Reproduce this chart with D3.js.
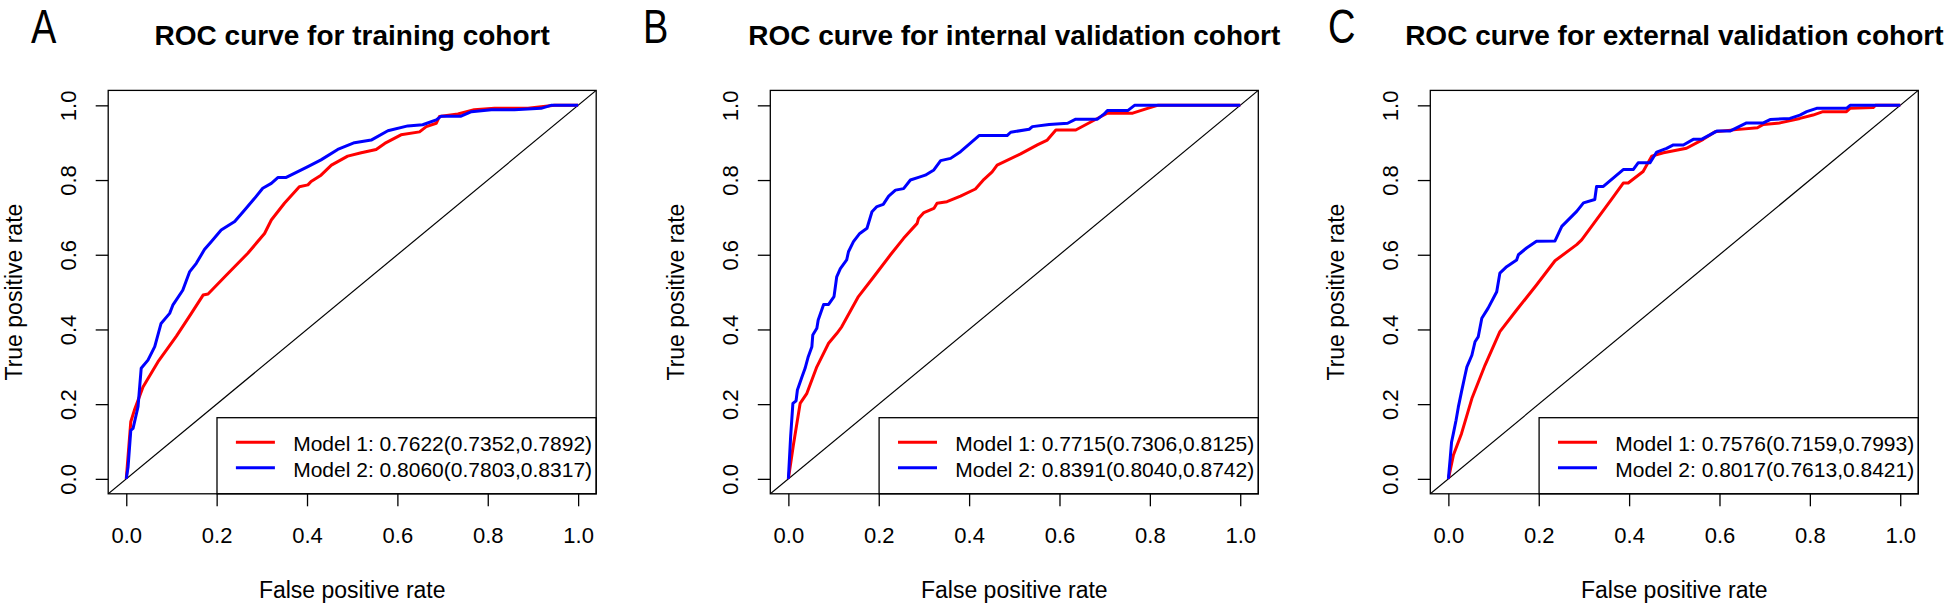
<!DOCTYPE html>
<html>
<head>
<meta charset="utf-8">
<script src="https://cdn.jsdelivr.net/npm/d3@7"></script>
<style>
  html, body { margin: 0; padding: 0; background: #fff; }
  svg { display: block; }
  text { font-family: "Liberation Sans", Arial, sans-serif; fill: #000; }
</style>
</head>
<body>
<svg id="chart" width="1944" height="607"></svg>
<script>
// ---------------- DATA ----------------
const panelLabels = ["A", "B", "C"];
const panelTitles = [
  "ROC curve for training cohort",
  "ROC curve for internal validation cohort",
  "ROC curve for external validation cohort"
];
const xAxisTitle = "False positive rate";
const yAxisTitle = "True positive rate";
const tickValues = [0, 0.2, 0.4, 0.6, 0.8, 1.0];
const tickLabels = ["0.0", "0.2", "0.4", "0.6", "0.8", "1.0"];
const seriesNames = ["Model 1", "Model 2"];

const legendTraining = ["Model 1: 0.7622(0.7352,0.7892)", "Model 2: 0.8060(0.7803,0.8317)"];
const legendInternal = ["Model 1: 0.7715(0.7306,0.8125)", "Model 2: 0.8391(0.8040,0.8742)"];
const legendExternal = ["Model 1: 0.7576(0.7159,0.7993)", "Model 2: 0.8017(0.7613,0.8421)"];

// [false positive rate, true positive rate]
const trainingModel1 = [
  [0,0],[0.01,0.153],[0.018,0.184],[0.037,0.246],[0.07,0.313],[0.111,0.382],[0.144,0.443],
  [0.17,0.492],[0.181,0.495],[0.218,0.541],[0.269,0.604],[0.306,0.657],[0.321,0.693],
  [0.35,0.738],[0.383,0.782],[0.402,0.787],[0.409,0.796],[0.431,0.813],[0.454,0.84],
  [0.49,0.864],[0.52,0.873],[0.553,0.882],[0.572,0.898],[0.608,0.921],[0.649,0.929],
  [0.664,0.943],[0.686,0.952],[0.693,0.97],[0.734,0.977],[0.77,0.988],[0.815,0.992],
  [0.889,0.992],[0.933,0.998],[0.948,1],[1,1]
];
const trainingModel2 = [
  [0,0],[0.004,0.032],[0.01,0.13],[0.015,0.135],[0.026,0.193],[0.033,0.296],[0.048,0.318],
  [0.063,0.354],[0.077,0.416],[0.096,0.443],[0.103,0.465],[0.125,0.505],[0.14,0.554],
  [0.155,0.577],[0.173,0.614],[0.188,0.635],[0.21,0.666],[0.24,0.689],[0.262,0.72],
  [0.284,0.751],[0.302,0.778],[0.321,0.791],[0.336,0.807],[0.354,0.807],[0.402,0.836],
  [0.431,0.854],[0.468,0.882],[0.505,0.9],[0.542,0.907],[0.579,0.932],[0.623,0.945],
  [0.656,0.948],[0.686,0.961],[0.697,0.971],[0.741,0.971],[0.764,0.983],[0.808,0.988],
  [0.859,0.988],[0.918,0.992],[0.94,1],[1,1]
];
const internalModel1 = [
  [0,0],[0.011,0.09],[0.026,0.202],[0.041,0.229],[0.063,0.3],[0.089,0.363],[0.107,0.389],
  [0.118,0.407],[0.155,0.488],[0.189,0.541],[0.226,0.6],[0.255,0.644],[0.285,0.684],
  [0.288,0.697],[0.3,0.713],[0.322,0.724],[0.329,0.738],[0.351,0.742],[0.381,0.757],
  [0.414,0.776],[0.433,0.802],[0.451,0.822],[0.462,0.84],[0.514,0.87],[0.551,0.894],
  [0.573,0.907],[0.592,0.934],[0.636,0.934],[0.692,0.97],[0.706,0.979],[0.762,0.979],
  [0.795,0.992],[0.817,1],[1,1]
];
const internalModel2 = [
  [0,0],[0.005,0.113],[0.01,0.202],[0.017,0.209],[0.02,0.238],[0.03,0.273],[0.037,0.296],
  [0.044,0.327],[0.052,0.354],[0.054,0.385],[0.063,0.403],[0.066,0.425],[0.078,0.467],
  [0.089,0.467],[0.101,0.488],[0.107,0.541],[0.115,0.563],[0.129,0.586],[0.133,0.608],
  [0.144,0.635],[0.158,0.657],[0.174,0.671],[0.185,0.715],[0.196,0.729],[0.21,0.735],
  [0.222,0.757],[0.237,0.773],[0.255,0.777],[0.27,0.8],[0.288,0.807],[0.303,0.813],
  [0.322,0.827],[0.337,0.852],[0.359,0.858],[0.381,0.876],[0.422,0.919],[0.484,0.919],
  [0.492,0.928],[0.533,0.936],[0.54,0.943],[0.577,0.949],[0.618,0.952],[0.636,0.963],
  [0.684,0.963],[0.699,0.977],[0.706,0.986],[0.751,0.986],[0.766,1],[1,1]
];
const externalModel1 = [
  [0,0],[0.011,0.063],[0.029,0.121],[0.052,0.215],[0.081,0.304],[0.114,0.394],[0.151,0.452],
  [0.195,0.519],[0.236,0.584],[0.284,0.627],[0.295,0.64],[0.328,0.694],[0.361,0.748],
  [0.387,0.792],[0.398,0.792],[0.431,0.823],[0.45,0.864],[0.476,0.873],[0.527,0.885],
  [0.564,0.909],[0.59,0.929],[0.637,0.935],[0.684,0.94],[0.697,0.949],[0.734,0.953],
  [0.778,0.965],[0.807,0.974],[0.829,0.983],[0.881,0.983],[0.889,0.992],[0.94,0.994],
  [0.945,1],[1,1]
];
const externalModel2 = [
  [0,0],[0.004,0.054],[0.007,0.098],[0.011,0.121],[0.017,0.157],[0.022,0.192],[0.029,0.233],
  [0.037,0.278],[0.041,0.3],[0.052,0.331],[0.059,0.367],[0.066,0.38],[0.074,0.43],
  [0.088,0.457],[0.107,0.501],[0.114,0.551],[0.129,0.568],[0.151,0.586],[0.155,0.6],
  [0.173,0.618],[0.195,0.636],[0.236,0.637],[0.251,0.676],[0.284,0.716],[0.299,0.739],
  [0.324,0.748],[0.328,0.783],[0.343,0.783],[0.387,0.828],[0.409,0.828],[0.42,0.846],
  [0.446,0.846],[0.461,0.875],[0.483,0.885],[0.498,0.894],[0.52,0.894],[0.542,0.909],
  [0.56,0.909],[0.594,0.931],[0.623,0.931],[0.66,0.953],[0.697,0.953],[0.712,0.962],
  [0.756,0.965],[0.778,0.974],[0.793,0.983],[0.815,0.992],[0.881,0.992],[0.889,1],[1,1]
];

const seriesColors = ["#FF0000", "#0000FF"];

// ---------------- LAYOUT ----------------
const panels = [
  { label: panelLabels[0], title: panelTitles[0], m1: trainingModel1, m2: trainingModel2, legend: legendTraining, left: 108.2, labelX: 31 },
  { label: panelLabels[1], title: panelTitles[1], m1: internalModel1, m2: internalModel2, legend: legendInternal, left: 770.3, labelX: 643 },
  { label: panelLabels[2], title: panelTitles[2], m1: externalModel1, m2: externalModel2, legend: legendExternal, left: 1430.3, labelX: 1328 }
];
const boxTop = 90.4, boxW = 488, boxH = 403.4;
const svg = d3.select("#chart");

panels.forEach(p => {
  const g = svg.append("g");
  const x = d3.scaleLinear().domain([-0.04, 1.04]).range([p.left, p.left + boxW]);
  const y = d3.scaleLinear().domain([-0.04, 1.04]).range([boxTop + boxH, boxTop]);
  const bottom = boxTop + boxH, right = p.left + boxW;

  // panel label (condensed look)
  g.append("text")
    .attr("transform", `translate(${p.labelX},42.5) scale(0.8,1)`)
    .attr("font-size", 47.5)
    .text(p.label);

  // title
  g.append("text")
    .attr("x", p.left + boxW / 2).attr("y", 44.5)
    .attr("text-anchor", "middle")
    .attr("font-size", 28).attr("font-weight", "bold")
    .text(p.title);

  // x axis
  const xAxis = d3.axisBottom(x).tickValues(tickValues)
    .tickFormat((d, i) => tickLabels[i]).tickSize(12.5).tickPadding(0);
  const gx = g.append("g").attr("transform", `translate(0,${bottom})`).call(xAxis);
  gx.select(".domain").remove();
  gx.selectAll(".tick line").attr("stroke", "#000").attr("stroke-width", 1.3);
  gx.selectAll(".tick text").attr("y", 49).attr("dy", null)
    .attr("font-size", 22).attr("font-family", "Liberation Sans, Arial, sans-serif").attr("fill", "#000");

  // y axis
  const yAxis = d3.axisLeft(y).tickValues(tickValues)
    .tickFormat((d, i) => tickLabels[i]).tickSize(12.5).tickPadding(0);
  const gy = g.append("g").attr("transform", `translate(${p.left},0)`).call(yAxis);
  gy.select(".domain").remove();
  gy.selectAll(".tick line").attr("stroke", "#000").attr("stroke-width", 1.3);
  gy.selectAll(".tick text")
    .attr("x", null).attr("dy", null)
    .attr("transform", "translate(-32.5,0) rotate(-90)")
    .attr("text-anchor", "middle")
    .attr("font-size", 22).attr("font-family", "Liberation Sans, Arial, sans-serif").attr("fill", "#000");

  // axis titles
  g.append("text")
    .attr("x", p.left + boxW / 2).attr("y", bottom + 104.5)
    .attr("text-anchor", "middle").attr("font-size", 23)
    .text(xAxisTitle);
  g.append("text")
    .attr("transform", `translate(${p.left - 86.5},${boxTop + boxH / 2}) rotate(-90)`)
    .attr("text-anchor", "middle").attr("font-size", 23)
    .text(yAxisTitle);

  // clip
  const clipId = "clip" + p.label;
  g.append("clipPath").attr("id", clipId)
    .append("rect").attr("x", p.left).attr("y", boxTop).attr("width", boxW).attr("height", boxH);

  // diagonal reference
  g.append("line")
    .attr("clip-path", `url(#${clipId})`)
    .attr("x1", x(-0.04)).attr("y1", y(-0.04)).attr("x2", x(1.04)).attr("y2", y(1.04))
    .attr("stroke", "#000").attr("stroke-width", 1.2);

  // curves
  const line = d3.line().x(d => x(d[0])).y(d => y(d[1]));
  [p.m1, p.m2].forEach((s, i) => {
    g.append("path").datum(s)
      .attr("d", line)
      .attr("fill", "none")
      .attr("stroke", seriesColors[i])
      .attr("stroke-width", 3)
      .attr("stroke-linejoin", "round");
  });

  // legend
  const lgLeft = p.left + 108.8, lgTop = 417.7;
  g.append("rect")
    .attr("x", lgLeft).attr("y", lgTop)
    .attr("width", right - lgLeft).attr("height", bottom - lgTop)
    .attr("fill", "#fff").attr("stroke", "#000").attr("stroke-width", 1.3);
  const rowsY = [442.3, 467.7];
  seriesNames.forEach((n, i) => {
    g.append("line")
      .attr("x1", lgLeft + 18.9).attr("x2", lgLeft + 57.9)
      .attr("y1", rowsY[i]).attr("y2", rowsY[i])
      .attr("stroke", seriesColors[i]).attr("stroke-width", 3);
    g.append("text")
      .attr("x", lgLeft + 76.2).attr("y", rowsY[i] + 9)
      .attr("font-size", 21)
      .text(p.legend[i]);
  });

  // plot box
  g.append("rect")
    .attr("x", p.left).attr("y", boxTop).attr("width", boxW).attr("height", boxH)
    .attr("fill", "none").attr("stroke", "#000").attr("stroke-width", 1.3);
});
</script>
</body>
</html>
